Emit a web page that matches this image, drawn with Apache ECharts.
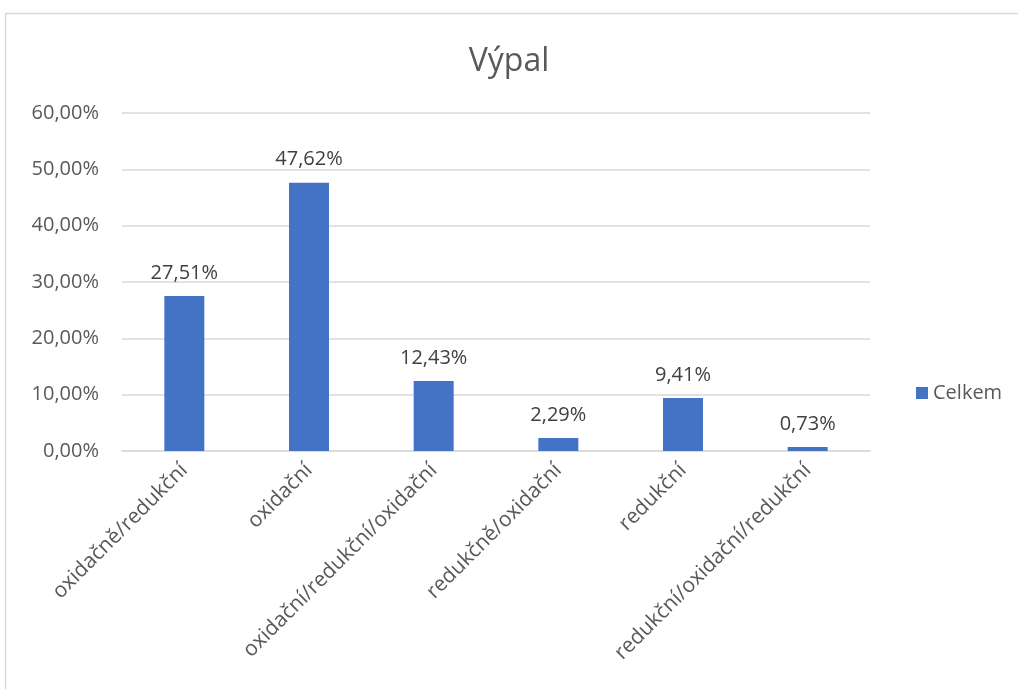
<!DOCTYPE html>
<html>
<head>
<meta charset="utf-8">
<script src="https://cdn.jsdelivr.net/npm/echarts@6/dist/echarts.min.js"></script>
<style>
  html, body { margin: 0; padding: 0; background: #fff; }
  #chart { width: 1018px; height: 689px; }
</style>
</head>
<body>
<div id="chart"></div>
<script>
// Výpal – share of firing atmosphere types
const categories = [
  'oxidačně/redukční',
  'oxidační',
  'oxidační/redukční/oxidační',
  'redukčně/oxidační',
  'redukční',
  'redukční/oxidační/redukční'
];
const celkem = [27.51, 47.62, 12.43, 2.29, 9.41, 0.73];
const yTicks = { min: 0, max: 60, interval: 10 };

const fmt = v => v.toFixed(2).replace('.', ',') + '%';
const font = '"Open Sans", "Noto Sans", sans-serif';

const chart = echarts.init(document.getElementById('chart'), null, { renderer: 'canvas' });
chart.setOption({
  backgroundColor: '#fff',
  animation: false,
  title: {
    text: 'Výpal',
    left: 'center',
    top: 41,
    textStyle: { fontFamily: font, fontSize: 32, fontWeight: 'normal', color: '#595959' }
  },
  legend: {
    orient: 'vertical',
    left: 911,
    top: 378,
    itemWidth: 12,
    itemHeight: 12,
    itemGap: 8,
    icon: 'rect',
    textStyle: { fontFamily: font, fontSize: 20, color: '#595959' },
    data: ['Celkem']
  },
  grid: { left: 122, right: 148, top: 113, bottom: 238, containLabel: false },
  xAxis: {
    type: 'category',
    data: categories,
    axisTick: { show: false },
    axisLine: { lineStyle: { color: '#d9d9d9', width: 1.5 } },
    axisLabel: {
      rotate: 45,
      interval: 0,
      margin: 16,
      fontFamily: font,
      fontSize: 21,
      color: '#595959'
    }
  },
  yAxis: {
    type: 'value',
    min: yTicks.min,
    max: yTicks.max,
    interval: yTicks.interval,
    axisLine: { show: false },
    axisTick: { show: false },
    splitLine: { lineStyle: { color: '#d9d9d9', width: 1.5 } },
    axisLabel: {
      margin: 23,
      fontFamily: font,
      fontSize: 20,
      color: '#595959',
      formatter: v => fmt(v)
    }
  },
  series: [{
    name: 'Celkem',
    type: 'bar',
    data: celkem,
    barWidth: 40,
    itemStyle: { color: '#4472c4' },
    label: {
      show: true,
      position: 'top',
      distance: 13,
      fontFamily: font,
      fontSize: 20,
      color: '#404040',
      formatter: p => fmt(p.value)
    }
  }],
  graphic: [{
    type: 'rect',
    shape: { x: 5.5, y: 13.5, width: 1100, height: 800 },
    style: { fill: 'none', stroke: '#d9d9d9', lineWidth: 1.5 },
    silent: true
  }]
});
</script>
</body>
</html>
